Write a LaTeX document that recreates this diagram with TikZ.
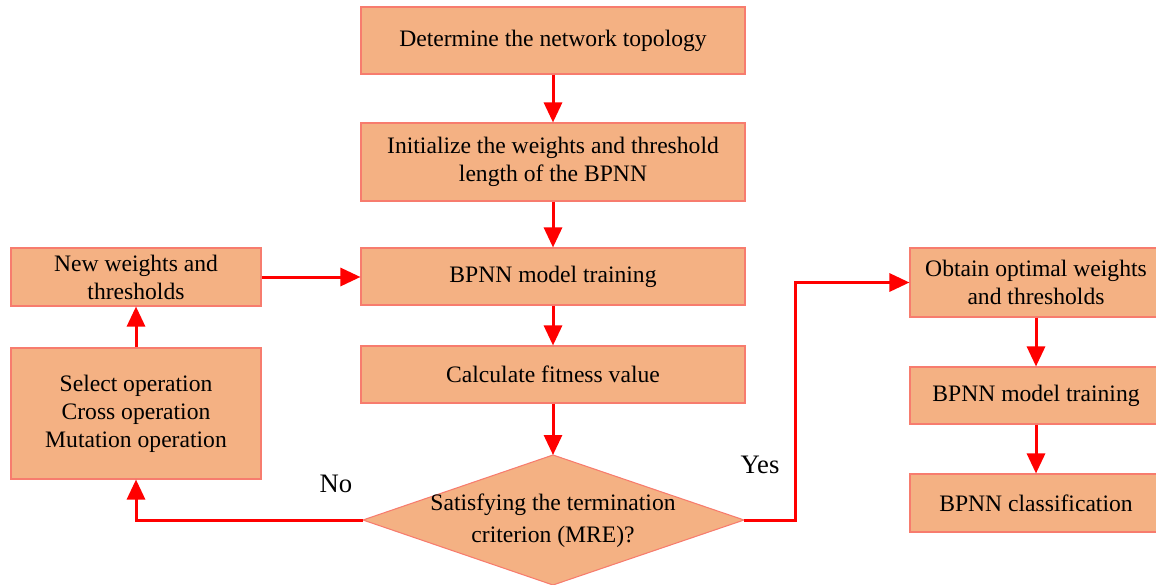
\documentclass[tikz,border=0pt]{standalone}
\usepackage{fontspec}
\setmainfont{Liberation Serif}
\usetikzlibrary{arrows.meta}
\definecolor{boxfill}{HTML}{F4B183}
\definecolor{boxline}{HTML}{F77C6E}
\definecolor{arrred}{HTML}{FF0000}
\begin{document}
\begin{tikzpicture}[x=0.75pt,y=-0.75pt,
  box/.style={draw=boxline,line width=0.8pt,fill=boxfill,align=center,inner sep=2pt,
    font=\fontsize{17.7pt}{21pt}\selectfont},
  diashape/.style={draw=boxline,line width=0.8pt,fill=boxfill},
  diatext/.style={align=center,inner sep=0pt,font=\fontsize{17.7pt}{24pt}\selectfont},
  arr/.style={draw=arrred,line width=2.25pt,-{Triangle[length=15pt,width=13.5pt]}},
  lab/.style={font=\fontsize{20pt}{24pt}\selectfont}]
\useasboundingbox (0,0) rectangle (1156,585);
% main column
\node[box,minimum width=288pt,minimum height=50.25pt] (b1) at (553,40.5) {Determine the network topology};
\node[box,minimum width=288pt,minimum height=58.5pt] (b2) at (553,162) {Initialize the weights and threshold\\length of the BPNN};
\node[box,minimum width=288pt,minimum height=42.75pt] (b3) at (553,276.5) {BPNN model training};
\node[box,minimum width=288pt,minimum height=42.75pt] (b4) at (553,374.5) {Calculate fitness value};
% decision diamond
\coordinate (dT) at (553,455);
\coordinate (dL) at (363,520);
\coordinate (dR) at (744,520);
\coordinate (dB) at (553,585);
\draw[diashape] (dT) -- (dR) -- (dB) -- (dL) -- cycle;
\node[diatext] (d) at (553,521) {Satisfying the termination\\criterion (MRE)?};
% left column
\node[box,minimum width=187.5pt,minimum height=43.5pt] (nw) at (136,277) {New weights and\\thresholds};
\node[box,minimum width=187.5pt,minimum height=98.25pt] (ops) at (136,413.5) {Select operation\\Cross operation\\Mutation operation};
% right column
\node[box,minimum width=189pt,minimum height=51.75pt] (ob) at (1036,282.5) {Obtain optimal weights\\and thresholds};
\node[box,minimum width=189pt,minimum height=42.75pt] (rt) at (1036,395.5) {BPNN model training};
\node[box,minimum width=189pt,minimum height=43.5pt] (rc) at (1036,503) {BPNN classification};
% labels
\node[lab] (no) at (336,484) {No};
\node[lab] (yes) at (760,465) {Yes};
% connectors
\draw[arr] (b1) -- (b2);
\draw[arr] (b2) -- (b3);
\draw[arr] (b3) -- (b4);
\draw[arr] (b4) -- (dT);
\draw[arr] (nw.east) -- (nw.east -| b3.west);
\draw[arr] (ops) -- (nw);
\draw[arr] (dL) -| (ops.south);
\coordinate (yk) at (795,520);
\draw[arr] (dR) -- (yk) |- (ob.west);
\draw[arr] (ob) -- (rt);
\draw[arr] (rt) -- (rc);
\end{tikzpicture}
\end{document}
